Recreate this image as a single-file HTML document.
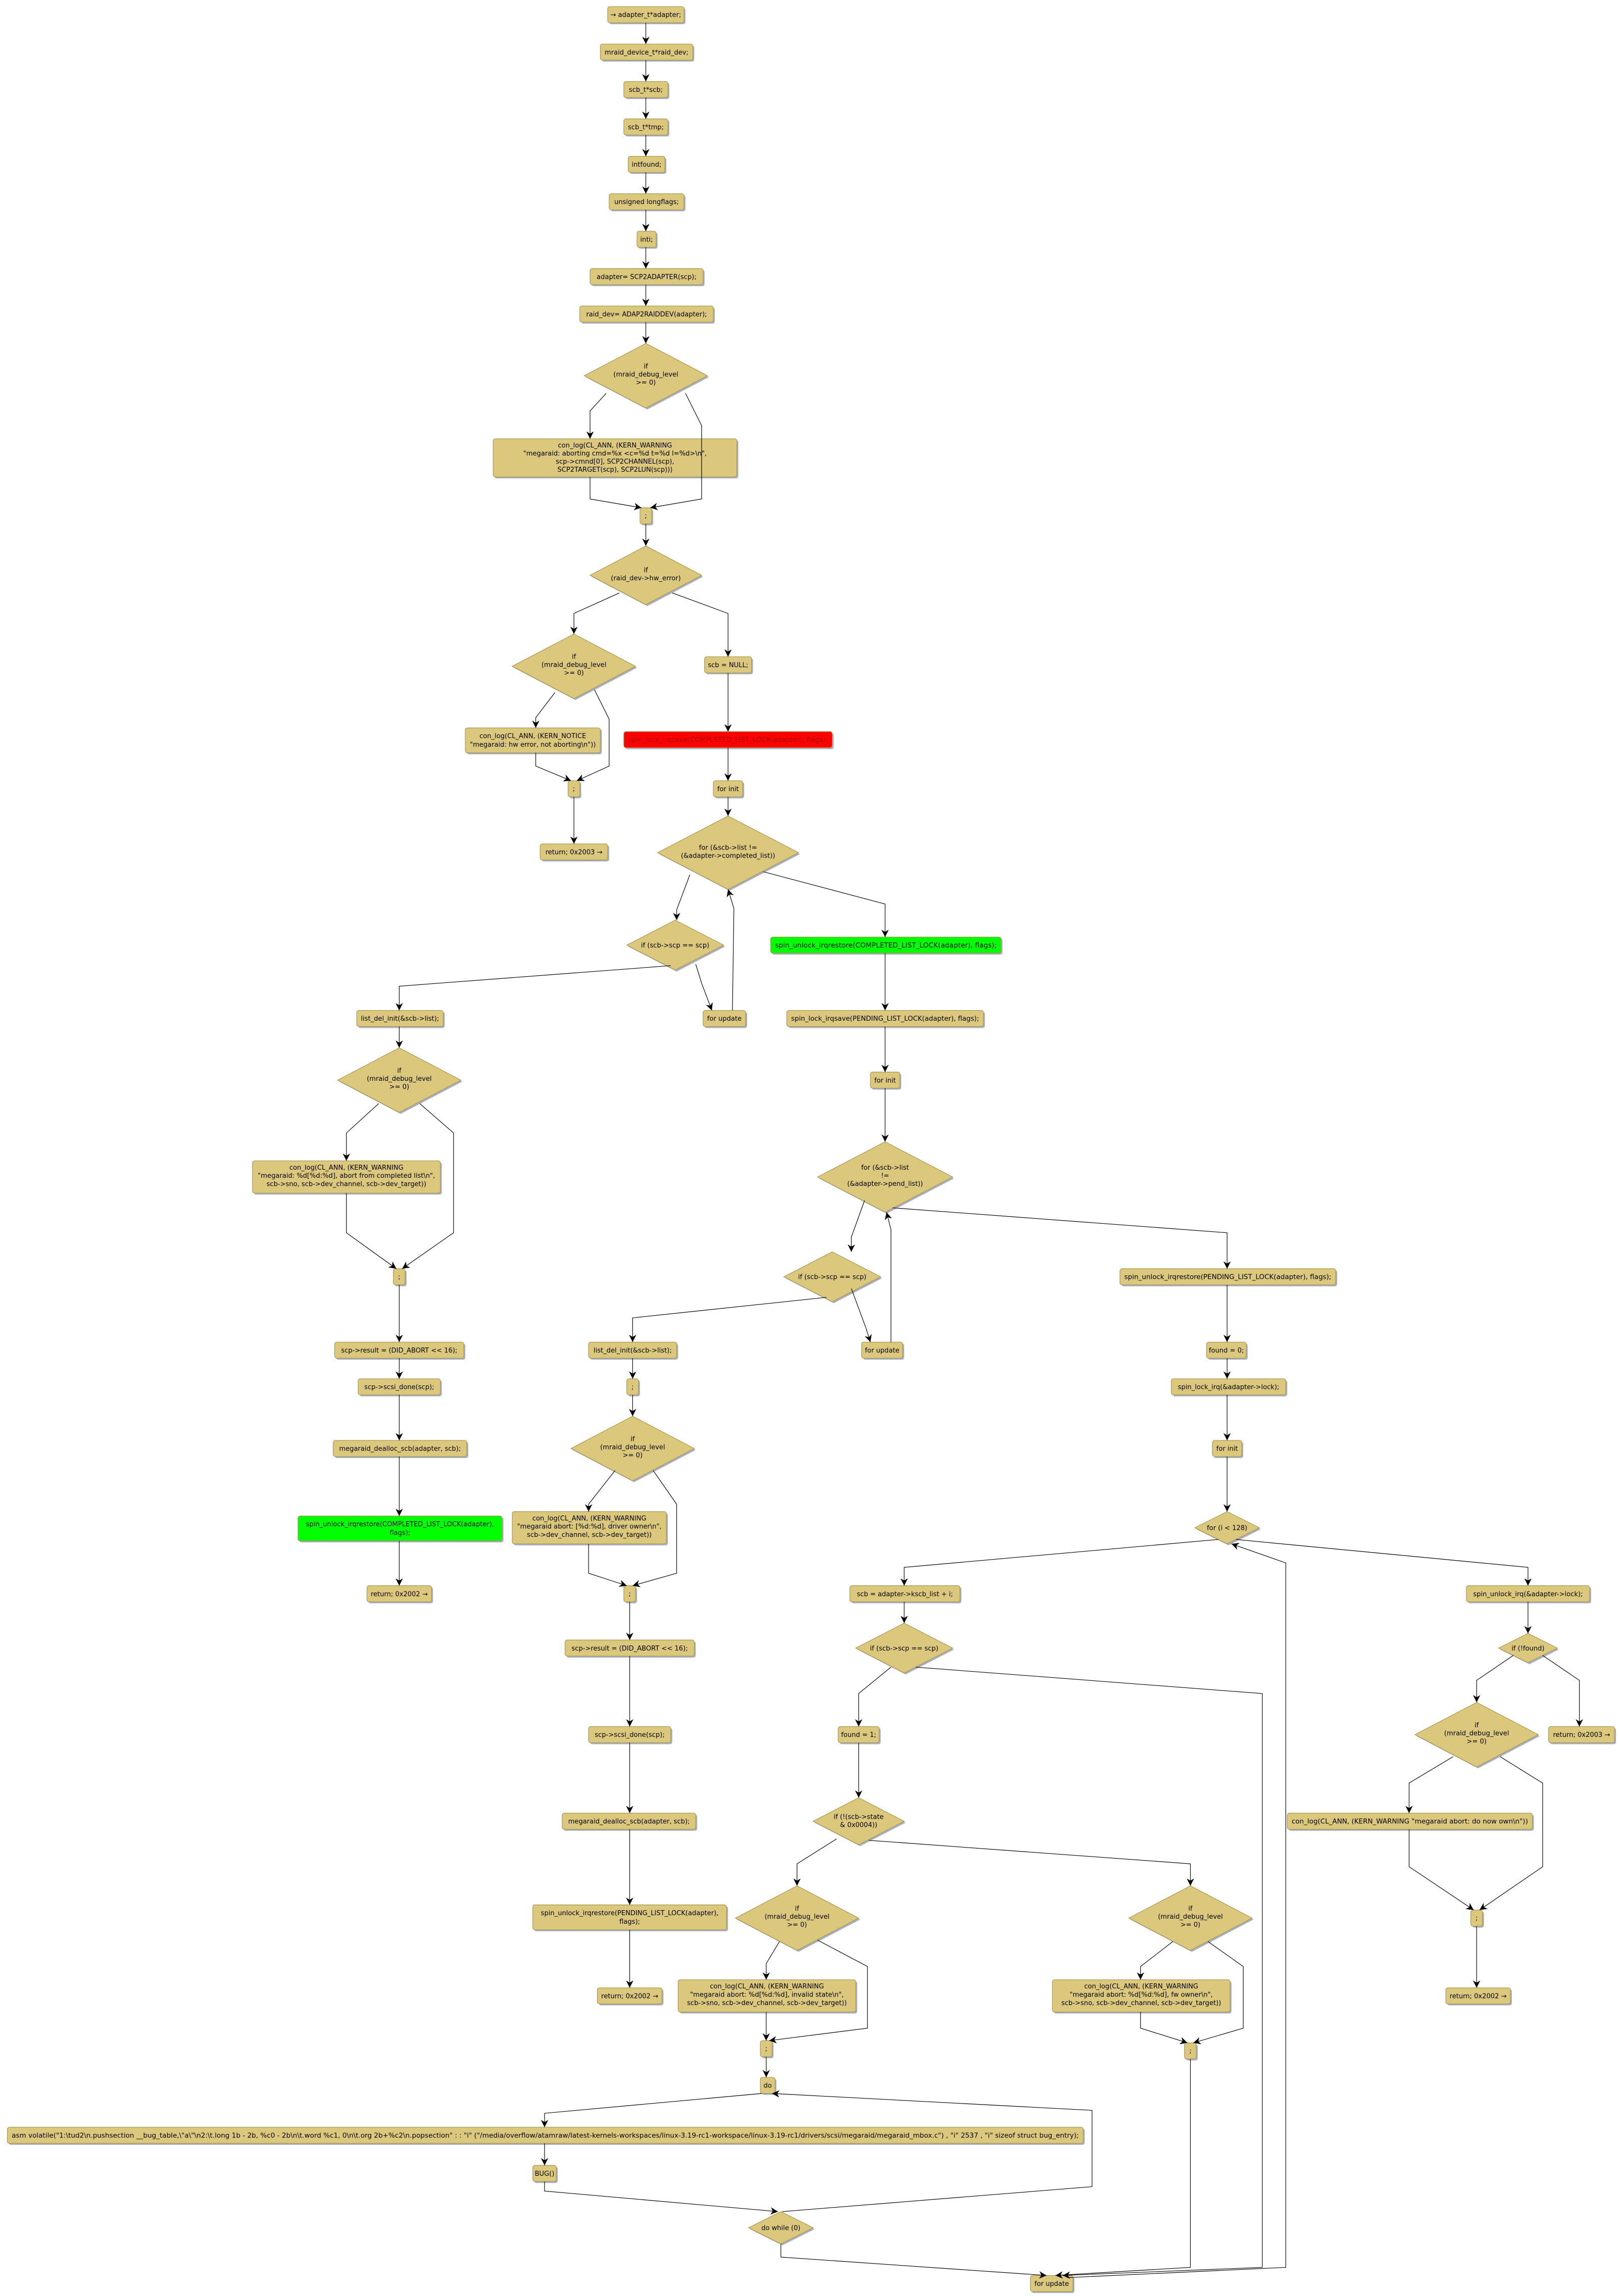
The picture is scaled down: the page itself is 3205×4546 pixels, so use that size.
<!DOCTYPE html>
<html><head><meta charset="utf-8"><style>
html,body{margin:0;padding:0;background:#fff}
svg{display:block}
.b{fill:#dbc87c;stroke:#a6954c;stroke-width:0.4}
.sh{fill:#a7b0c8}
.r{fill:#ff0000;stroke:#a6954c;stroke-width:0.4}
.g{fill:#00ff00;stroke:#a6954c;stroke-width:0.4}
text{font-family:"DejaVu Sans","Liberation Sans",sans-serif;font-size:4.5px;fill:#000;text-anchor:middle}
.e{fill:none;stroke:#000;stroke-width:0.4;marker-end:url(#a)}
</style></head><body>
<svg width="3205" height="4546" viewBox="0 0 1103 1564.5" xmlns="http://www.w3.org/2000/svg">
<defs><marker id="a" markerWidth="6" markerHeight="6" refX="5" refY="3" orient="auto" markerUnits="userSpaceOnUse"><path d="M0,0.5 L5,3 L0,5.5 L1.5,3 z" fill="#000"/></marker></defs>

<g>
<rect class="sh" x="415" y="5.5" width="52" height="11" rx="1.5"/><rect class="b" x="414" y="4.5" width="52" height="11" rx="1.5"/><text x="440" y="11.6">→ adapter_t*adapter;</text>
<rect class="sh" x="410" y="31" width="63" height="11" rx="1.5"/><rect class="b" x="409" y="30" width="63" height="11" rx="1.5"/><text x="440.5" y="37.1">mraid_device_t*raid_dev;</text>
<rect class="sh" x="426" y="56.5" width="30" height="11" rx="1.5"/><rect class="b" x="425" y="55.5" width="30" height="11" rx="1.5"/><text x="440" y="62.6">scb_t*scb;</text>
<rect class="sh" x="426" y="82" width="30" height="11" rx="1.5"/><rect class="b" x="425" y="81" width="30" height="11" rx="1.5"/><text x="440" y="88.1">scb_t*tmp;</text>
<rect class="sh" x="429" y="107.5" width="25" height="11" rx="1.5"/><rect class="b" x="428" y="106.5" width="25" height="11" rx="1.5"/><text x="440.5" y="113.6">intfound;</text>
<rect class="sh" x="416" y="133" width="51" height="11" rx="1.5"/><rect class="b" x="415" y="132" width="51" height="11" rx="1.5"/><text x="440.5" y="139.1">unsigned longflags;</text>
<rect class="sh" x="435" y="158.5" width="13" height="11" rx="1.5"/><rect class="b" x="434" y="157.5" width="13" height="11" rx="1.5"/><text x="440.5" y="164.6">inti;</text>
<rect class="sh" x="403" y="184" width="77" height="11" rx="1.5"/><rect class="b" x="402" y="183" width="77" height="11" rx="1.5"/><text x="440.5" y="190.1">adapter= SCP2ADAPTER(scp);</text>
<rect class="sh" x="396" y="209.5" width="91" height="11" rx="1.5"/><rect class="b" x="395" y="208.5" width="91" height="11" rx="1.5"/><text x="440.5" y="215.6">raid_dev= ADAP2RAIDDEV(adapter);</text>

<polygon class="sh" points="441,235 483,257 441,279 399,257"/><polygon class="b" points="440,234 482,256 440,278 398,256"/>
<text x="440" y="251">if</text><text x="440" y="256.5">(mraid_debug_level</text><text x="440" y="262">&gt;= 0)</text>

<rect class="sh" x="337" y="300" width="166" height="26" rx="1.5"/><rect class="b" x="336" y="299" width="166" height="26" rx="1.5"/>
<text x="419" y="305">con_log(CL_ANN, (KERN_WARNING</text><text x="419" y="310.5">"megaraid: aborting cmd=%x &lt;c=%d t=%d l=%d&gt;\n",</text><text x="419" y="316">scp-&gt;cmnd[0], SCP2CHANNEL(scp),</text><text x="419" y="321.5">SCP2TARGET(scp), SCP2LUN(scp)))</text>

<rect class="sh" x="437" y="347" width="8" height="11" rx="1.5"/><rect class="b" x="436" y="346" width="8" height="11" rx="1.5"/><text x="440" y="353">;</text>

<polygon class="sh" points="441,373 479,393 441,413 403,393"/><polygon class="b" points="440,372 478,392 440,412 402,392"/>
<text x="440" y="390">if</text><text x="440" y="395.5">(raid_dev-&gt;hw_error)</text>

<polygon class="sh" points="392,433 434,455 392,477 350,455"/><polygon class="b" points="391,432 433,454 391,476 349,454"/>
<text x="391" y="449">if</text><text x="391" y="454.5">(mraid_debug_level</text><text x="391" y="460">&gt;= 0)</text>

<rect class="sh" x="481" y="448.5" width="32" height="11" rx="1.5"/><rect class="b" x="480" y="447.5" width="32" height="11" rx="1.5"/><text x="496" y="454.6">scb = NULL;</text>

<rect class="sh" x="318" y="497" width="92" height="17" rx="1.5"/><rect class="b" x="317" y="496" width="92" height="17" rx="1.5"/>
<text x="363" y="503">con_log(CL_ANN, (KERN_NOTICE</text><text x="363" y="508.8">"megaraid: hw error, not aborting\n"))</text>

<rect class="sh" x="426" y="499.5" width="142" height="11" rx="1.5"/><rect class="r" x="425" y="498.5" width="142" height="11" rx="1.5"/><text x="496" y="505.6" style="fill:#a00000" textLength="136" lengthAdjust="spacingAndGlyphs">spin_lock_irqsave(COMPLETED_LIST_LOCK(adapter), flags);</text>

<rect class="sh" x="388" y="533" width="8" height="11" rx="1.5"/><rect class="b" x="387" y="532" width="8" height="11" rx="1.5"/><text x="391" y="539">;</text>
<rect class="sh" x="487" y="533" width="20" height="11" rx="1.5"/><rect class="b" x="486" y="532" width="20" height="11" rx="1.5"/><text x="496" y="539.1">for init</text>

<rect class="sh" x="369" y="576" width="46" height="11" rx="1.5"/><rect class="b" x="368" y="575" width="46" height="11" rx="1.5"/><text x="391" y="582.1">return; 0x2003 →</text>

<polygon class="sh" points="497,557 545,582 497,607 449,582"/><polygon class="b" points="496,556 544,581 496,606 448,581"/>
<text x="496" y="579">for (&amp;scb-&gt;list !=</text><text x="496" y="584.5">(&amp;adapter-&gt;completed_list))</text>

<polygon class="sh" points="461,628 494,645 461,662 428,645"/><polygon class="b" points="460,627 493,644 460,661 427,644"/>
<text x="460" y="645.6">if (scb-&gt;scp == scp)</text>

<rect class="sh" x="526" y="639.5" width="157" height="11" rx="1.5"/><rect class="g" x="525" y="638.5" width="157" height="11" rx="1.5"/><text x="603.5" y="645.6" textLength="151" lengthAdjust="spacingAndGlyphs">spin_unlock_irqrestore(COMPLETED_LIST_LOCK(adapter), flags);</text>

<rect class="sh" x="244" y="689.5" width="59" height="11" rx="1.5"/><rect class="b" x="243" y="688.5" width="59" height="11" rx="1.5"/><text x="272.5" y="695.6">list_del_init(&amp;scb-&gt;list);</text>
<rect class="sh" x="480" y="689.5" width="29" height="11" rx="1.5"/><rect class="b" x="479" y="688.5" width="29" height="11" rx="1.5"/><text x="493.5" y="695.6">for update</text>
<rect class="sh" x="537" y="689.5" width="134" height="11" rx="1.5"/><rect class="b" x="536" y="688.5" width="134" height="11" rx="1.5"/><text x="603" y="695.6" textLength="128" lengthAdjust="spacingAndGlyphs">spin_lock_irqsave(PENDING_LIST_LOCK(adapter), flags);</text>

<polygon class="sh" points="273,715 315,737 273,759 231,737"/><polygon class="b" points="272,714 314,736 272,758 230,736"/>
<text x="272" y="731">if</text><text x="272" y="736.5">(mraid_debug_level</text><text x="272" y="742">&gt;= 0)</text>

<rect class="sh" x="594" y="731.5" width="20" height="11" rx="1.5"/><rect class="b" x="593" y="730.5" width="20" height="11" rx="1.5"/><text x="603" y="737.6">for init</text>

<rect class="sh" x="173" y="792" width="128" height="22" rx="1.5"/><rect class="b" x="172" y="791" width="128" height="22" rx="1.5"/>
<text x="236" y="797">con_log(CL_ANN, (KERN_WARNING</text><text x="236" y="802.6">"megaraid: %d[%d:%d], abort from completed list\n",</text><text x="236" y="808.2">scb-&gt;sno, scb-&gt;dev_channel, scb-&gt;dev_target))</text>

<polygon class="sh" points="604,779 650,803 604,827 558,803"/><polygon class="b" points="603,778 649,802 603,826 557,802"/>
<text x="603" y="797">for (&amp;scb-&gt;list</text><text x="603" y="802.5">!=</text><text x="603" y="808">(&amp;adapter-&gt;pend_list))</text>

<rect class="sh" x="269" y="865.5" width="8" height="11" rx="1.5"/><rect class="b" x="268" y="864.5" width="8" height="11" rx="1.5"/><text x="272" y="871.5">;</text>

<polygon class="sh" points="568,854 601,871 568,888 535,871"/><polygon class="b" points="567,853 600,870 567,887 534,870"/>
<text x="567" y="871.6">if (scb-&gt;scp == scp)</text>

<rect class="sh" x="764" y="865.5" width="147" height="11" rx="1.5"/><rect class="b" x="763" y="864.5" width="147" height="11" rx="1.5"/><text x="836.5" y="871.6" textLength="141" lengthAdjust="spacingAndGlyphs">spin_unlock_irqrestore(PENDING_LIST_LOCK(adapter), flags);</text>

<rect class="sh" x="229" y="915.5" width="88" height="11" rx="1.5"/><rect class="b" x="228" y="914.5" width="88" height="11" rx="1.5"/><text x="272" y="921.6">scp-&gt;result = (DID_ABORT &lt;&lt; 16);</text>
<rect class="sh" x="402" y="915.5" width="60" height="11" rx="1.5"/><rect class="b" x="401" y="914.5" width="60" height="11" rx="1.5"/><text x="431" y="921.6">list_del_init(&amp;scb-&gt;list);</text>
<rect class="sh" x="588" y="915.5" width="28" height="11" rx="1.5"/><rect class="b" x="587" y="914.5" width="28" height="11" rx="1.5"/><text x="601" y="921.6">for update</text>
<rect class="sh" x="823" y="915.5" width="27" height="11" rx="1.5"/><rect class="b" x="822" y="914.5" width="27" height="11" rx="1.5"/><text x="835.5" y="921.6">found = 0;</text>

<rect class="sh" x="245" y="940.5" width="56" height="11" rx="1.5"/><rect class="b" x="244" y="939.5" width="56" height="11" rx="1.5"/><text x="272" y="946.6">scp-&gt;scsi_done(scp);</text>
<rect class="sh" x="428" y="940.5" width="8" height="11" rx="1.5"/><rect class="b" x="427" y="939.5" width="8" height="11" rx="1.5"/><text x="431" y="946.5">;</text>
<rect class="sh" x="799" y="940.5" width="78" height="11" rx="1.5"/><rect class="b" x="798" y="939.5" width="78" height="11" rx="1.5"/><text x="837" y="946.6">spin_lock_irq(&amp;adapter-&gt;lock);</text>

<rect class="sh" x="228" y="982.5" width="91" height="11" rx="1.5"/><rect class="b" x="227" y="981.5" width="91" height="11" rx="1.5"/><text x="272.5" y="988.6">megaraid_dealloc_scb(adapter, scb);</text>

<polygon class="sh" points="432,966 474,988 432,1010 390,988"/><polygon class="b" points="431,965 473,987 431,1009 389,987"/>
<text x="431" y="982">if</text><text x="431" y="987.5">(mraid_debug_level</text><text x="431" y="993">&gt;= 0)</text>

<rect class="sh" x="827" y="982.5" width="20" height="11" rx="1.5"/><rect class="b" x="826" y="981.5" width="20" height="11" rx="1.5"/><text x="836" y="988.6">for init</text>

<rect class="sh" x="204" y="1034" width="139" height="17" rx="1.5"/><rect class="g" x="203" y="1033" width="139" height="17" rx="1.5"/>
<text x="272.5" y="1040">spin_unlock_irqrestore(COMPLETED_LIST_LOCK(adapter),</text><text x="272.5" y="1045.8">flags);</text>

<rect class="sh" x="350" y="1031" width="105" height="22" rx="1.5"/><rect class="b" x="349" y="1030" width="105" height="22" rx="1.5"/>
<text x="401.5" y="1036">con_log(CL_ANN, (KERN_WARNING</text><text x="401.5" y="1041.6">"megaraid abort: [%d:%d], driver owner\n",</text><text x="401.5" y="1047.2">scb-&gt;dev_channel, scb-&gt;dev_target))</text>

<polygon class="sh" points="837,1031 859,1042 837,1053 815,1042"/><polygon class="b" points="836,1030 858,1041 836,1052 814,1041"/>
<text x="836" y="1042.6">for (i &lt; 128)</text>

<rect class="sh" x="251" y="1081.5" width="44" height="11" rx="1.5"/><rect class="b" x="250" y="1080.5" width="44" height="11" rx="1.5"/><text x="272" y="1087.6">return; 0x2002 →</text>
<rect class="sh" x="426" y="1081.5" width="8" height="11" rx="1.5"/><rect class="b" x="425" y="1080.5" width="8" height="11" rx="1.5"/><text x="429" y="1087.5">;</text>
<rect class="sh" x="580" y="1081.5" width="75" height="11" rx="1.5"/><rect class="b" x="579" y="1080.5" width="75" height="11" rx="1.5"/><text x="616.5" y="1087.6">scb = adapter-&gt;kscb_list + i;</text>
<rect class="sh" x="1000" y="1081.5" width="84" height="11" rx="1.5"/><rect class="b" x="999" y="1080.5" width="84" height="11" rx="1.5"/><text x="1041" y="1087.6">spin_unlock_irq(&amp;adapter-&gt;lock);</text>

<polygon class="sh" points="617,1107 650,1124 617,1141 584,1124"/><polygon class="b" points="616,1106 649,1123 616,1140 583,1123"/>
<text x="616" y="1124.6">if (scb-&gt;scp == scp)</text>

<polygon class="sh" points="1042,1114 1062,1124 1042,1134 1022,1124"/><polygon class="b" points="1041,1113 1061,1123 1041,1133 1021,1123"/>
<text x="1041" y="1124.6">if (!found)</text>

<rect class="sh" x="386" y="1118.5" width="88" height="11" rx="1.5"/><rect class="b" x="385" y="1117.5" width="88" height="11" rx="1.5"/><text x="429" y="1124.6">scp-&gt;result = (DID_ABORT &lt;&lt; 16);</text>

<rect class="sh" x="402" y="1177.5" width="56" height="11" rx="1.5"/><rect class="b" x="401" y="1176.5" width="56" height="11" rx="1.5"/><text x="429" y="1183.6">scp-&gt;scsi_done(scp);</text>
<rect class="sh" x="572" y="1177.5" width="28" height="11" rx="1.5"/><rect class="b" x="571" y="1176.5" width="28" height="11" rx="1.5"/><text x="585" y="1183.6">found = 1;</text>

<polygon class="sh" points="1007,1161 1049,1183 1007,1205 965,1183"/><polygon class="b" points="1006,1160 1048,1182 1006,1204 964,1182"/>
<text x="1006" y="1177">if</text><text x="1006" y="1182.5">(mraid_debug_level</text><text x="1006" y="1188">&gt;= 0)</text>

<rect class="sh" x="1056" y="1177.5" width="45" height="11" rx="1.5"/><rect class="b" x="1055" y="1176.5" width="45" height="11" rx="1.5"/><text x="1077.5" y="1183.6">return; 0x2003 →</text>

<rect class="sh" x="384" y="1236.5" width="91" height="11" rx="1.5"/><rect class="b" x="383" y="1235.5" width="91" height="11" rx="1.5"/><text x="428.5" y="1242.6">megaraid_dealloc_scb(adapter, scb);</text>

<polygon class="sh" points="586,1226 617,1242 586,1258 555,1242"/><polygon class="b" points="585,1225 616,1241 585,1257 554,1241"/>
<text x="585" y="1239.5">if (!(scb-&gt;state</text><text x="585" y="1245">&amp; 0x0004))</text>

<rect class="sh" x="878" y="1236.5" width="167" height="11" rx="1.5"/><rect class="b" x="877" y="1235.5" width="167" height="11" rx="1.5"/><text x="960.5" y="1242.6" textLength="161" lengthAdjust="spacingAndGlyphs">con_log(CL_ANN, (KERN_WARNING "megaraid abort: do now own\n"))</text>

<rect class="sh" x="364" y="1299" width="132" height="17" rx="1.5"/><rect class="b" x="363" y="1298" width="132" height="17" rx="1.5"/>
<text x="429" y="1305">spin_unlock_irqrestore(PENDING_LIST_LOCK(adapter),</text><text x="429" y="1310.8">flags);</text>

<polygon class="sh" points="544,1286 586,1308 544,1330 502,1308"/><polygon class="b" points="543,1285 585,1307 543,1329 501,1307"/>
<text x="543" y="1302">if</text><text x="543" y="1307.5">(mraid_debug_level</text><text x="543" y="1313">&gt;= 0)</text>

<polygon class="sh" points="812,1286 854,1308 812,1330 770,1308"/><polygon class="b" points="811,1285 853,1307 811,1329 769,1307"/>
<text x="811" y="1302">if</text><text x="811" y="1307.5">(mraid_debug_level</text><text x="811" y="1313">&gt;= 0)</text>

<rect class="sh" x="1003" y="1302.5" width="8" height="11" rx="1.5"/><rect class="b" x="1002" y="1301.5" width="8" height="11" rx="1.5"/><text x="1006" y="1308.5">;</text>

<rect class="sh" x="408" y="1355.5" width="44" height="11" rx="1.5"/><rect class="b" x="407" y="1354.5" width="44" height="11" rx="1.5"/><text x="429" y="1361.6">return; 0x2002 →</text>

<rect class="sh" x="463" y="1350" width="121" height="22" rx="1.5"/><rect class="b" x="462" y="1349" width="121" height="22" rx="1.5"/>
<text x="522.5" y="1355">con_log(CL_ANN, (KERN_WARNING</text><text x="522.5" y="1360.6">"megaraid abort: %d[%d:%d], invalid state\n",</text><text x="522.5" y="1366.2">scb-&gt;sno, scb-&gt;dev_channel, scb-&gt;dev_target))</text>

<rect class="sh" x="718" y="1350" width="121" height="22" rx="1.5"/><rect class="b" x="717" y="1349" width="121" height="22" rx="1.5"/>
<text x="777.5" y="1355">con_log(CL_ANN, (KERN_WARNING</text><text x="777.5" y="1360.6">"megaraid abort: %d[%d:%d], fw owner\n",</text><text x="777.5" y="1366.2">scb-&gt;sno, scb-&gt;dev_channel, scb-&gt;dev_target))</text>

<rect class="sh" x="986" y="1355.5" width="44" height="11" rx="1.5"/><rect class="b" x="985" y="1354.5" width="44" height="11" rx="1.5"/><text x="1007" y="1361.6">return; 0x2002 →</text>

<rect class="sh" x="519" y="1391.5" width="8" height="11" rx="1.5"/><rect class="b" x="518" y="1390.5" width="8" height="11" rx="1.5"/><text x="522" y="1397.5">;</text>
<rect class="sh" x="808" y="1393" width="8" height="11" rx="1.5"/><rect class="b" x="807" y="1392" width="8" height="11" rx="1.5"/><text x="811" y="1399">;</text>
<rect class="sh" x="519" y="1416.5" width="10" height="11" rx="1.5"/><rect class="b" x="518" y="1415.5" width="10" height="11" rx="1.5"/><text x="523" y="1422.6">do</text>

<rect class="sh" x="6" y="1450.5" width="733" height="11" rx="1.5"/><rect class="b" x="5" y="1449.5" width="733" height="11" rx="1.5"/><text x="371.5" y="1456.6" textLength="727" lengthAdjust="spacingAndGlyphs">asm volatile("1:\tud2\n.pushsection __bug_table,\"a\"\n2:\t.long 1b - 2b, %c0 - 2b\n\t.word %c1, 0\n\t.org 2b+%c2\n.popsection" : : "i" ("/media/overflow/atamraw/latest-kernels-workspaces/linux-3.19-rc1-workspace/linux-3.19-rc1/drivers/scsi/megaraid/megaraid_mbox.c") , "i" 2537 , "i" sizeof struct bug_entry);</text>

<rect class="sh" x="364" y="1476.5" width="16" height="11" rx="1.5"/><rect class="b" x="363" y="1475.5" width="16" height="11" rx="1.5"/><text x="371" y="1482.6">BUG()</text>

<polygon class="sh" points="533,1508 555,1519 533,1530 511,1519"/><polygon class="b" points="532,1507 554,1518 532,1529 510,1518"/>
<text x="532" y="1519.6">do while (0)</text>

<rect class="sh" x="703" y="1551.5" width="29" height="11" rx="1.5"/><rect class="b" x="702" y="1550.5" width="29" height="11" rx="1.5"/><text x="716.5" y="1557.6">for update</text>
</g>

<g>
<polyline class="e" points="440,15.5 440,30"/>
<polyline class="e" points="440,41 440,55.5"/>
<polyline class="e" points="440,66.5 440,81"/>
<polyline class="e" points="440,92 440,106.5"/>
<polyline class="e" points="440,117.5 440,132"/>
<polyline class="e" points="440,143 440,157.5"/>
<polyline class="e" points="440,168.5 440,183"/>
<polyline class="e" points="440,194 440,208.5"/>
<polyline class="e" points="440,219.5 440,234"/>
<polyline class="e" points="413,268 402,280 402,299"/>
<polyline class="e" points="467,268 478,290 478,340 443,346"/>
<polyline class="e" points="402,325 402,340 437,346"/>
<polyline class="e" points="440,357 440,372"/>
<polyline class="e" points="422,404 391,418 391,432"/>
<polyline class="e" points="458,404 496,418 496,447.5"/>
<polyline class="e" points="378,472 365,489 365,496"/>
<polyline class="e" points="405,470 415,490 415,522 393,532"/>
<polyline class="e" points="365,513 365,522 389,532"/>
<polyline class="e" points="391,543 391,575"/>
<polyline class="e" points="496,458.5 496,498.5"/>
<polyline class="e" points="496,509.5 496,532"/>
<polyline class="e" points="496,543 496,556"/>
<polyline class="e" points="470,596 461,620 461,627"/>
<polyline class="e" points="520,594 603,616 603,638.5"/>
<polyline class="e" points="457,658 272,672 272,688.5"/>
<polyline class="e" points="474,657 478,670 485,688.5"/>
<polyline class="e" points="499,688.5 500,619 496,606"/>
<polyline class="e" points="603,649.5 603,688.5"/>
<polyline class="e" points="603,699.5 603,730.5"/>
<polyline class="e" points="603,741.5 603,778"/>
<polyline class="e" points="272,699.5 272,714"/>
<polyline class="e" points="258,752 236,772 236,791"/>
<polyline class="e" points="286,752 309,772 309,840 274,864.5"/>
<polyline class="e" points="236,813 236,840 270,864.5"/>
<polyline class="e" points="272,875.5 272,914.5"/>
<polyline class="e" points="272,925.5 272,939.5"/>
<polyline class="e" points="272,950.5 272,981.5"/>
<polyline class="e" points="272,992.5 272,1033"/>
<polyline class="e" points="272,1050 272,1080.5"/>
<polyline class="e" points="589,818 580,843 580,853"/>
<polyline class="e" points="608,823 836,840 836,864.5"/>
<polyline class="e" points="563,884 431,898 431,914.5"/>
<polyline class="e" points="580,878 590,905 593,914.5"/>
<polyline class="e" points="607,914.5 607,838 604,826"/>
<polyline class="e" points="836,875.5 836,914.5"/>
<polyline class="e" points="836,925.5 836,939.5"/>
<polyline class="e" points="836,950.5 836,981.5"/>
<polyline class="e" points="836,992.5 836,1030"/>
<polyline class="e" points="431,925.5 431,939.5"/>
<polyline class="e" points="431,950.5 431,965"/>
<polyline class="e" points="419,1002 401,1025 401,1030"/>
<polyline class="e" points="445,1002 461,1025 461,1072 431,1080.5"/>
<polyline class="e" points="401,1052 401,1072 427,1080.5"/>
<polyline class="e" points="429,1091.5 429,1117.5"/>
<polyline class="e" points="429,1128.5 429,1176.5"/>
<polyline class="e" points="429,1187.5 429,1235.5"/>
<polyline class="e" points="429,1246.5 429,1298"/>
<polyline class="e" points="429,1315 429,1354.5"/>
<polyline class="e" points="830,1049 616,1068 616,1080.5"/>
<polyline class="e" points="842,1049 1041,1068 1041,1080.5"/>
<polyline class="e" points="727,1552 876,1545 876,1065 839,1052"/>
<polyline class="e" points="616,1091.5 616,1106"/>
<polyline class="e" points="1041,1091.5 1041,1113"/>
<polyline class="e" points="607,1136 585,1154 585,1176.5"/>
<polyline class="e" points="624,1136 860,1154 860,1545 724,1550.5"/>
<polyline class="e" points="585,1187.5 585,1225"/>
<polyline class="e" points="570,1253 543,1270 543,1285"/>
<polyline class="e" points="592,1254 811,1270 811,1285"/>
<polyline class="e" points="531,1323 522,1338 522,1349"/>
<polyline class="e" points="557,1322 591,1340 591,1382 524,1390.5"/>
<polyline class="e" points="522,1371 522,1390.5"/>
<polyline class="e" points="522,1401.5 522,1415.5"/>
<polyline class="e" points="799,1323 777,1340 777,1349"/>
<polyline class="e" points="823,1323 847,1340 847,1382 813,1392"/>
<polyline class="e" points="777,1371 777,1382 809,1392"/>
<polyline class="e" points="811,1403 811,1545 719,1550.5"/>
<polyline class="e" points="1031,1128 1006,1145 1006,1160"/>
<polyline class="e" points="1051,1128 1076,1145 1076,1176.5"/>
<polyline class="e" points="990,1197 960,1215 960,1235.5"/>
<polyline class="e" points="1022,1197 1051,1215 1051,1272 1008,1301.5"/>
<polyline class="e" points="960,1246.5 960,1272 1004,1301.5"/>
<polyline class="e" points="1006,1312.5 1006,1354.5"/>
<polyline class="e" points="519,1426.5 371,1440 371,1449.5"/>
<polyline class="e" points="533,1507 744,1490 744,1438 526,1426.5"/>
<polyline class="e" points="371,1460.5 371,1475.5"/>
<polyline class="e" points="371,1486.5 371,1493 530,1507"/>
<polyline class="e" points="532,1529 532,1538 713,1550.5"/>
</g>
</svg>
</body></html>
